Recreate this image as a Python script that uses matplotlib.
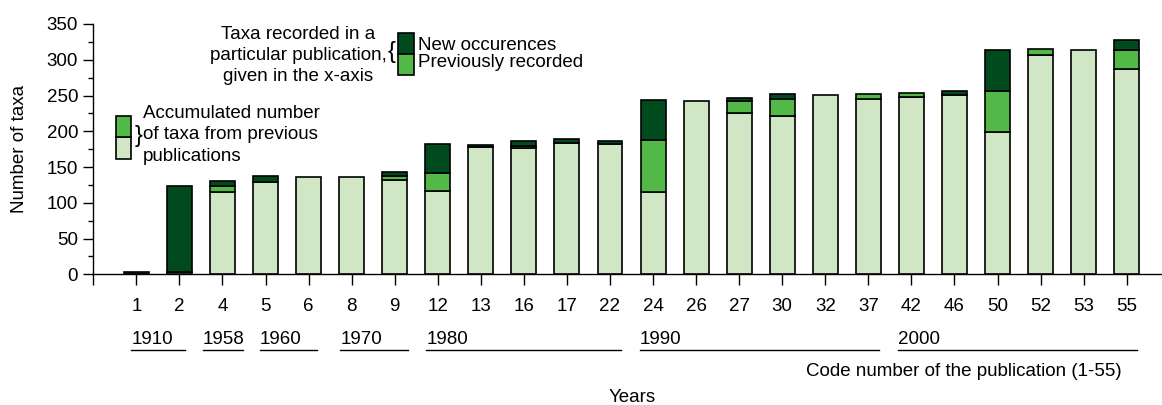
import matplotlib.pyplot as plt
import numpy as np
from matplotlib.patches import Rectangle
from matplotlib.ticker import MultipleLocator

plt.rcParams['font.family'] = ['Liberation Sans', 'DejaVu Sans']

# publication code numbers (x-axis)
pubs = ['1', '2', '4', '5', '6', '8', '9', '12', '13', '16', '17', '22',
        '24', '26', '27', '30', '32', '37', '42', '46', '50', '52', '53', '55']
# accumulated number of taxa from previous publications
accumulated = [0, 3, 115, 129, 136, 136, 132, 116, 178, 176, 183, 182,
               115, 243, 225, 221, 251, 245, 248, 251, 199, 307, 313, 287]
# taxa of the publication that were recorded before
previously = [0, 0, 9, 0, 0, 0, 5, 26, 0, 4, 1, 0,
              73, 0, 17, 24, 0, 7, 5, 0, 57, 8, 0, 27]
# new occurences in the publication
new_occ = [3, 121, 7, 8, 0, 0, 6, 40, 3, 7, 5, 5,
           56, 0, 4, 7, 0, 0, 0, 5, 58, 0, 0, 14]

# decades and the span of publications below them
decades = ['1910', '1958', '1960', '1970', '1980', '1990', '2000']
decade_start = [-0.12, 1.54, 2.87, 4.74, 6.73, 11.69, 17.69]
decade_end = [1.12, 2.48, 4.19, 6.30, 11.25, 17.24, 23.24]

light = '#d0e6c4'
medium = '#52b848'
dark = '#004b1e'
fs = 13.5

W, H = 1162, 405
fig = plt.figure(figsize=(W / 100, H / 100), dpi=100)
ax = fig.add_axes([93.3 / W, 1 - 274.3 / H, 1 - 93.3 / W, (274.3 - 24) / H])

x = np.arange(len(pubs))
acc = np.array(accumulated, dtype=float)
prev = np.array(previously, dtype=float)
new = np.array(new_occ, dtype=float)

bw = 0.58
kw = dict(width=bw, edgecolor='black', linewidth=1.2, zorder=3)
m = acc > 0
ax.bar(x[m], acc[m], color=light, **kw)
m = prev > 0
ax.bar(x[m], prev[m], bottom=acc[m], color=medium, **kw)
m = new > 0
ax.bar(x[m], new[m], bottom=(acc + prev)[m], color=dark, **kw)

ax.set_xlim(-1, 23.82)
ax.set_ylim(0, 350)
ax.spines['top'].set_visible(False)
ax.spines['right'].set_visible(False)
ax.spines['left'].set_linewidth(1.0)
ax.spines['bottom'].set_linewidth(1.0)

ax.set_xticks(np.concatenate([[-1], x]))
ax.set_xticklabels([''] + pubs)
ax.tick_params(axis='x', length=8, width=1.0, pad=9, labelsize=fs)
ax.yaxis.set_major_locator(MultipleLocator(50))
ax.yaxis.set_minor_locator(MultipleLocator(25))
ax.tick_params(axis='y', which='major', length=7, width=1.0, pad=4, labelsize=fs)
ax.tick_params(axis='y', which='minor', length=3.5, width=1.0)

ax.set_ylabel('Number of taxa', fontsize=fs, labelpad=13)

# decades below the publication numbers
trans = ax.get_xaxis_transform()
for lab, s, e in zip(decades, decade_start, decade_end):
    ax.text(s, -(339 - 274.3) / 250.3, lab, transform=trans, ha='left', va='center',
            fontsize=fs, clip_on=False)
    ax.plot([s, e], [-(350 - 274.3) / 250.3] * 2, transform=trans, color='black',
            lw=1.0, clip_on=False)

fig.text(1122 / W, 1 - 371 / H, 'Code number of the publication (1-55)',
         ha='right', va='center', fontsize=fs)
fig.text(632 / W, 1 - 397 / H, 'Years', ha='center', va='center', fontsize=fs)

# legend: accumulated taxa
fig.patches.append(Rectangle((116 / W, 1 - 158.7 / H), 15 / W, 21.4 / H,
                             transform=fig.transFigure, facecolor=light,
                             edgecolor='black', lw=1.2))
fig.patches.append(Rectangle((116 / W, 1 - 137.3 / H), 15 / W, 21.6 / H,
                             transform=fig.transFigure, facecolor=medium,
                             edgecolor='black', lw=1.2))
fig.text(135 / W, 1 - 136 / H, '}', ha='left', va='center', fontsize=17)
fig.text(143 / W, 1 - 135 / H, 'Accumulated number\nof taxa from previous\npublications',
         ha='left', va='center', fontsize=fs, linespacing=1.32)

# legend: taxa recorded in a publication
fig.text(298 / W, 1 - 55.5 / H, 'Taxa recorded in a\nparticular publication,\ngiven in the x-axis',
         ha='center', va='center', fontsize=fs, linespacing=1.32)
fig.text(392 / W, 1 - 52 / H, '{', ha='center', va='center', fontsize=17)
fig.patches.append(Rectangle((398.3 / W, 1 - 54 / H), 15.4 / W, 21.3 / H,
                             transform=fig.transFigure, facecolor=dark,
                             edgecolor='black', lw=1.2))
fig.patches.append(Rectangle((398.3 / W, 1 - 75 / H), 15.4 / W, 21 / H,
                             transform=fig.transFigure, facecolor=medium,
                             edgecolor='black', lw=1.2))
fig.text(418 / W, 1 - 46 / H, 'New occurences', ha='left', va='center', fontsize=fs)
fig.text(418 / W, 1 - 62.7 / H, 'Previously recorded', ha='left', va='center', fontsize=fs)

fig.savefig('out.png', dpi=100)
